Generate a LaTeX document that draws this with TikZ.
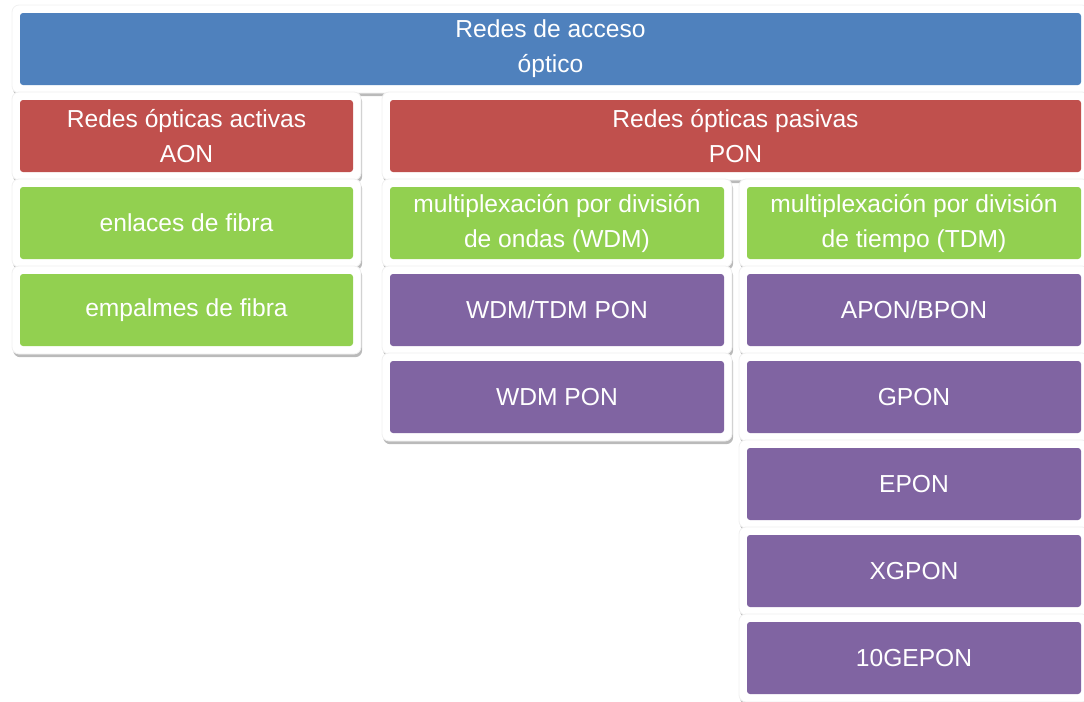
\documentclass[tikz,border=0pt]{standalone}
\usepackage{fontspec}
\setmainfont{Liberation Sans}
\definecolor{Ocean}{HTML}{4F81BD}
\definecolor{Brick}{HTML}{C0504D}
\definecolor{Lime}{HTML}{92D050}
\definecolor{Plum}{HTML}{8064A2}
\usetikzlibrary{positioning,calc,backgrounds,shadows}

\begin{document}
\begin{tikzpicture}[
  node distance=7.5pt and 0pt,
  tile/.style={rounded corners=1.5pt,fill=#1,minimum height=36pt,inner sep=2pt,outer sep=0pt,
    align=center,text=white,font=\fontsize{12.3}{17.5}\selectfont},
  half/.style={tile=#1,minimum width=167pt},
  card/.style={rounded corners=3.5pt,fill=white,draw=black!6,line width=.4pt,
    drop shadow={shadow xshift=.6pt,shadow yshift=-1.6pt,opacity=.45,fill=black!60}}
]
\useasboundingbox (0,0) rectangle (542pt,-351pt);
% top level
\node[tile=Ocean,minimum width=530.5pt,anchor=north west] (top) at (10pt,-6.5pt) {Redes de acceso\\óptico};
% active / passive
\node[tile=Brick,minimum width=166.5pt,below right=of top.south west] (aon) {Redes ópticas activas\\AON};
\node[tile=Brick,minimum width=345.5pt,right=18.5pt of aon] (pon) {Redes ópticas pasivas\\PON};
% AON parts
\node[tile=Lime,minimum width=166.5pt,below right=of aon.south west] (enlaces) {enlaces de fibra};
\node[tile=Lime,minimum width=166.5pt,below=of enlaces] (empalmes) {empalmes de fibra};
% PON parts
\node[half=Lime,below right=of pon.south west] (wdm) {multiplexación por división\\de ondas (WDM)};
\node[half=Lime,right=11.5pt of wdm] (tdm) {multiplexación por división\\de tiempo (TDM)};
\node[half=Plum,below=of wdm] (wdmtdm) {WDM/TDM PON};
\node[half=Plum,below=of wdmtdm] (wdmpon) {WDM PON};
\node[half=Plum,below=of tdm] (apon) {APON/BPON};
\node[half=Plum,below=of apon] (gpon) {GPON};
\node[half=Plum,below=of gpon] (epon) {EPON};
\node[half=Plum,below=of epon] (xgpon) {XGPON};
\node[half=Plum,below=of xgpon] (tengepon) {10GEPON};
% white cards behind the tiles
\begin{scope}[on background layer]
\foreach \n in {top,aon,pon,enlaces,empalmes,wdm,tdm,wdmtdm,wdmpon,apon,gpon,epon,xgpon,tengepon}
  \draw[card] ($(\n.north west)+(-4pt,4pt)$) rectangle ($(\n.south east)+(4pt,-4pt)$);
\end{scope}
\end{tikzpicture}
\end{document}
